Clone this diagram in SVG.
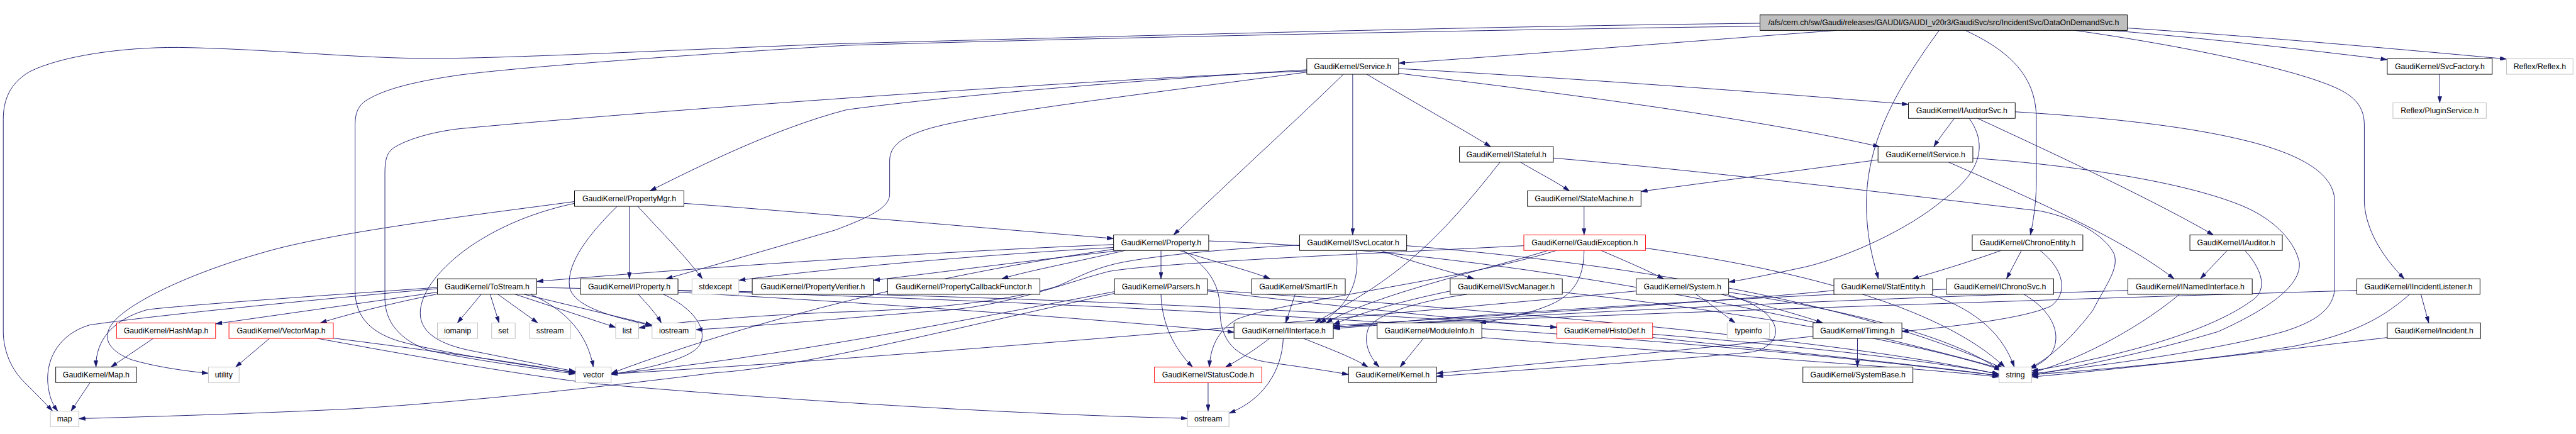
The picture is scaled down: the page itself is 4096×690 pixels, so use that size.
<svg xmlns="http://www.w3.org/2000/svg" width="4096" height="690" viewBox="0 0 4096 690">
<style>
.n rect{fill:#fff;stroke:#000;stroke-width:1}
.n.r rect{stroke:#ff0000}
.n.g rect{stroke:#bfbfbf}
.n.t rect{fill:#bfbfbf}
.n text{font-family:"Liberation Sans",Arial,sans-serif;font-size:13px;text-anchor:middle;fill:#000}
#edges path{fill:none;stroke:#191970;stroke-width:1;marker-end:url(#arr)}
</style>
<defs>
<marker id="arr" markerUnits="userSpaceOnUse" viewBox="0 0 11 7" refX="11" refY="3.5" markerWidth="11" markerHeight="7" orient="auto">
<path d="M0,0 L11,3.5 L0,7 z" fill="#191970" stroke="#191970" stroke-width="0.5"/>
</marker>
</defs>
<rect width="4096" height="690" fill="#fff"/>
<g transform="scale(0.948148)">
<g id="edges">
<path d="M2951.5,39 C2500,44 1900,60 1400,73.5 C1100,85 850,98 720,98 C600,98 450,82 300,79.5 C200,79 100,95 50,120 C15,140 5.5,170 5.5,200 L5.5,555 C5.5,590 20,620 40,640 C60,660 75,675 88,689"/>
<path d="M2951.5,44 C2500,50 1900,62 1420,76 C1100,95 850,115 769,126 C700,136 650,148 620,165 C600,175 595.5,190 595.5,210 L595.5,487 C595.5,530 620,560 680,575 C760,595 880,612 965,625"/>
<path d="M3080,51 C2850,68 2550,92 2345.5,106"/>
<path d="M3252,51 C3180,150 3128,240 3130,350 C3132,410 3143,440 3150,467.5"/>
<path d="M3296,51 C3380,90 3415,135 3415,200 L3415,300 C3415,340 3410,370 3405,394"/>
<path d="M3540,51 C3700,64 3880,85 4003.5,100"/>
<path d="M3567.5,47 C3800,62 4050,85 4203.5,99"/>
<path d="M3480,51 C3650,75 3850,115 3921,149 C3955,165 3965,185 3965,210 L3965,340 C3968,390 4000,435 4032,467.5"/>
<path d="M4091.5,124.5 L4091.5,172.5"/>
<path d="M2345.5,123 C2650,160 2950,200 3152,246"/>
<path d="M2345.5,115 C2700,135 3000,158 3200.5,175"/>
<path d="M2292,124.5 C2360,165 2450,215 2500,246"/>
<path d="M2268.5,124.5 L2268.5,394"/>
<path d="M2253,124.5 C2160,215 2060,305 1968,394"/>
<path d="M2191.5,117 C1900,135 1600,160 1420,184 C1300,215 1170,280 1090,320"/>
<path d="M2191.5,121 C1900,160 1650,190 1560,215 C1510,230 1492,245 1492,270 L1492,325 C1492,345 1470,360 1400,386 C1300,415 1180,450 1117,467.5"/>
<path d="M2191.5,119 C1800,135 1100,185 769,216 C720,222 680,235 660,248 C648,256 645.5,270 645.5,290 L645.5,500 C645.5,540 670,570 720,588 C800,605 900,618 965,627"/>
<path d="M3277.5,198.5 C3265,215 3252,232 3243,246"/>
<path d="M3302.5,198.5 C3335,245 3320,290 3259,335 C3200,385 3100,430 3030,447 C2970,460 2930,468 2899,473"/>
<path d="M3316.5,198.5 C3450,260 3620,340 3712,394"/>
<path d="M3379.5,187.5 C3550,198 3700,215 3800,245 C3880,270 3915.5,300 3915.5,340 L3915.5,480 C3915.5,520 3880,540 3830,556 C3700,592 3500,615 3407,627"/>
<path d="M3268,272 C3400,330 3560,400 3646,467.5"/>
<path d="M3149.5,268 C3000,288 2850,308 2752,321"/>
<path d="M3308.5,265 C3450,275 3650,300 3760,345 C3820,370 3850,410 3856,440 C3860,480 3800,520 3720,556 C3600,592 3480,615 3407,630"/>
<path d="M2605,265 C2900,290 3300,340 3420,353.5 C3480,365 3530,395 3545,425 C3555,450 3530,480 3510,520 C3480,560 3440,600 3404,617"/>
<path d="M2550,272 C2580,290 2610,305 2632,320"/>
<path d="M2515.5,272 C2470,330 2420,390 2360,440 C2300,490 2240,520 2205,541.5"/>
<path d="M2656.5,346 L2656.5,394"/>
<path d="M2685,420 C2720,435 2760,452 2790,467.5"/>
<path d="M2656.5,420 C2656,460 2645,495 2590,515 C2550,530 2510,537 2481,541.5"/>
<path d="M2596,420 C2500,450 2300,495 2224,541.5"/>
<path d="M2759.5,416 C3000,450 3250,510 3362,615.5"/>
<path d="M2610,420 C2450,470 2150,505 2075,535 C2040,555 2030,585 2028,615.5"/>
<path d="M2555.5,412 C2300,425 1950,440 1860,455 C1800,470 1700,510 1590,520 C1450,530 1300,545 1167,553"/>
<path d="M3356,420 C3300,440 3250,455 3207,467.5"/>
<path d="M3390,420 L3365,467.5"/>
<path d="M3421,420 C3460,450 3470,490 3440,513 C3400,532 3300,545 3189.5,556"/>
<path d="M3394,493.5 C3440,520 3460,560 3440,593 C3430,605 3418,612 3404,618"/>
<path d="M3264,485 C2900,500 2500,525 2236,549"/>
<path d="M3237,493.5 C3300,515 3355,550 3378,615.5"/>
<path d="M3075.5,487 C2900,505 2500,530 2236,546"/>
<path d="M3115,567.5 L3115,615.5"/>
<path d="M3040.5,564 C2800,590 2550,612 2409,626"/>
<path d="M2844,493.5 C2870,510 2890,527 2910,541.5"/>
<path d="M2887,493.5 C2950,510 3010,525 3057,541.5"/>
<path d="M2899,490 C3100,520 3280,565 3355,622"/>
<path d="M2899,495 C2990,520 3000,575 2940,590 C2800,605 2550,620 2409,631"/>
<path d="M2744,488 C2300,530 1500,600 1025,627"/>
<path d="M2274.5,420 C2280,460 2270,510 2213,541.5"/>
<path d="M2316,420 C2370,440 2430,455 2472,467.5"/>
<path d="M2179.5,411 C2000,420 1900,435 1868,443 C1820,455 1800,470 1767,482 C1700,500 1600,518 1400,523.5 C1250,530 1130,540 1071,550"/>
<path d="M2359,412 C2700,440 3100,500 3360,618"/>
<path d="M2432,488 C2350,505 2280,525 2236,544"/>
<path d="M2460,493.5 C2380,505 2310,525 2295,550 C2285,575 2298,600 2313,615.5"/>
<path d="M2620,490 C2900,520 3200,570 3356,620"/>
<path d="M2172,493.5 L2156,541.5"/>
<path d="M1867.5,410 C1500,425 1100,455 900,472"/>
<path d="M1867.5,415 C1600,430 1350,455 1239,470"/>
<path d="M1880,420 C1700,440 1550,460 1464.5,470"/>
<path d="M1887,420 C1800,440 1720,455 1680,467.5"/>
<path d="M1947,420 L1947,467.5"/>
<path d="M1978,420 C2040,440 2100,455 2130,467.5"/>
<path d="M1984,420 C2030,450 2046,480 2046,520 C2046,570 2070,600 2130,608 C2180,615 2230,622 2261.5,628"/>
<path d="M2027,404 C2500,420 3000,520 3356,618"/>
<path d="M1867.5,418 C1500,470 1200,560 1025,626"/>
<path d="M1055.5,346 L1055.5,467.5"/>
<path d="M1147,341 C1300,352 1600,378 1867.5,400"/>
<path d="M1069.5,346 C1110,390 1150,430 1178,467.5"/>
<path d="M1035,346 C990,390 950,440 955,480 C960,515 1030,532 1093.5,546"/>
<path d="M963.5,341 C850,365 760,420 720,480 C690,530 700,570 790,588 C850,600 910,612 965,623"/>
<path d="M963.5,338 C800,360 550,390 436,425 C330,455 230,500 195,535 C170,560 175,585 220,603 C260,615 310,622 349.5,626"/>
<path d="M1070.5,493.5 C1085,510 1100,525 1109,541.5"/>
<path d="M1112.5,493.5 C1170,520 1190,560 1170,583 C1150,603 1090,617 1025,628"/>
<path d="M1137,490 C1500,510 1900,540 2069.5,557"/>
<path d="M1137,487 C2000,500 3000,560 3352,627"/>
<path d="M807,493.5 L767,541.5"/>
<path d="M822,493.5 L837,541.5"/>
<path d="M835,493.5 L902,541.5"/>
<path d="M864,493.5 L1032.5,549"/>
<path d="M879,493.5 L1093.5,545"/>
<path d="M890,493.5 C950,520 985,560 995,615.5"/>
<path d="M733.5,484 C500,505 250,530 150,545 C100,560 78,600 80,640 C82,665 88,678 97,689.5"/>
<path d="M733.5,482 C550,495 330,510 248,519 C190,535 160,570 161,615.5"/>
<path d="M733.5,490 L361.5,543"/>
<path d="M733.5,493 C650,510 580,528 537,541.5"/>
<path d="M900,482 C1800,500 2800,560 3352,630"/>
<path d="M257,567.5 L186,615.5"/>
<path d="M452,567.5 L395,615.5"/>
<path d="M532.5,567.5 C700,598 850,625 994,643 C1300,670 1700,695 1991.5,701.5"/>
<path d="M559,567 C700,585 850,605 965,625"/>
<path d="M151,641.5 L119,689.5"/>
<path d="M1947,493.5 C1948,530 1960,575 2000,615.5"/>
<path d="M2025,488 C2300,520 2500,540 2611,549"/>
<path d="M1869,492 C1600,550 1350,615 1200,625 C1000,650 800,672 600,685 C400,695 200,700 132,702"/>
<path d="M1869,489 C1600,540 1300,600 1025,627"/>
<path d="M2025,486 C2500,520 3100,570 3353,628"/>
<path d="M2129,567.5 C2100,590 2075,605 2055,615.5"/>
<path d="M2186,567.5 C2230,585 2270,600 2294,615.5"/>
<path d="M2152,567.5 C2150,620 2120,670 2061,693"/>
<path d="M2026,641.5 L2026,689.5"/>
<path d="M2387,567.5 L2348,615.5"/>
<path d="M2485,566 C2800,590 3200,615 3352,632"/>
<path d="M2771.5,566 C3000,590 3250,615 3352,630"/>
<path d="M3568.5,487 C3000,505 2500,530 2236,551"/>
<path d="M3655,493.5 C3600,540 3500,600 3407,625"/>
<path d="M3735,420 L3690,467.5"/>
<path d="M3765,420 C3800,460 3800,490 3775,505 C3720,545 3600,590 3407,622"/>
<path d="M4060,493.5 L4073,541.5"/>
<path d="M4041,493.5 C4000,530 3950,560 3850,580 C3700,605 3500,622 3407,628"/>
<path d="M3952.5,487 C3500,500 2600,530 2236,548"/>
<path d="M4003.5,566 C3800,590 3550,620 3407,632"/>
</g>
<g id="n_top" class="n t"><rect x="2951.5" y="25" width="616" height="26"/><text x="3259.5" y="42.5">/afs/cern.ch/sw/Gaudi/releases/GAUDI/GAUDI_v20r3/GaudiSvc/src/IncidentSvc/DataOnDemandSvc.h</text></g>
<g id="n_service" class="n"><rect x="2191.5" y="98.5" width="154" height="26"/><text x="2268.5" y="116">GaudiKernel/Service.h</text></g>
<g id="n_svcfactory" class="n"><rect x="4003.5" y="98.5" width="176" height="26"/><text x="4091.5" y="116">GaudiKernel/SvcFactory.h</text></g>
<g id="n_reflex" class="n g"><rect x="4203.5" y="98.5" width="111.5" height="26"/><text x="4259.25" y="116">Reflex/Reflex.h</text></g>
<g id="n_iauditorsvc" class="n"><rect x="3200.5" y="172.5" width="179" height="26"/><text x="3290" y="190">GaudiKernel/IAuditorSvc.h</text></g>
<g id="n_pluginservice" class="n g"><rect x="4013" y="172.5" width="156.5" height="26"/><text x="4091.25" y="190">Reflex/PluginService.h</text></g>
<g id="n_istateful" class="n"><rect x="2447.5" y="246" width="157.5" height="26"/><text x="2526.25" y="263.5">GaudiKernel/IStateful.h</text></g>
<g id="n_iservice" class="n"><rect x="3149.5" y="246" width="159" height="26"/><text x="3229" y="263.5">GaudiKernel/IService.h</text></g>
<g id="n_propertymgr" class="n"><rect x="963.5" y="320" width="183.5" height="26"/><text x="1055.25" y="337.5">GaudiKernel/PropertyMgr.h</text></g>
<g id="n_statemachine" class="n"><rect x="2561.5" y="320" width="190.5" height="26"/><text x="2656.75" y="337.5">GaudiKernel/StateMachine.h</text></g>
<g id="n_property" class="n"><rect x="1867.5" y="394" width="159.5" height="26"/><text x="1947.25" y="411.5">GaudiKernel/Property.h</text></g>
<g id="n_isvclocator" class="n"><rect x="2179.5" y="394" width="179.5" height="26"/><text x="2269.25" y="411.5">GaudiKernel/ISvcLocator.h</text></g>
<g id="n_gaudiexception" class="n r"><rect x="2555.5" y="394" width="204" height="26"/><text x="2657.5" y="411.5">GaudiKernel/GaudiException.h</text></g>
<g id="n_chronoentity" class="n"><rect x="3307.5" y="394" width="185.5" height="26"/><text x="3400.25" y="411.5">GaudiKernel/ChronoEntity.h</text></g>
<g id="n_iauditor" class="n"><rect x="3672.5" y="394" width="155" height="26"/><text x="3750" y="411.5">GaudiKernel/IAuditor.h</text></g>
<g id="n_tostream" class="n"><rect x="733.5" y="467.5" width="166.5" height="26"/><text x="816.75" y="485">GaudiKernel/ToStream.h</text></g>
<g id="n_iproperty" class="n"><rect x="973.5" y="467.5" width="163.5" height="26"/><text x="1055.25" y="485">GaudiKernel/IProperty.h</text></g>
<g id="n_stdexcept" class="n g"><rect x="1160.5" y="467.5" width="78.5" height="26"/><text x="1199.75" y="485">stdexcept</text></g>
<g id="n_propertyverifier" class="n"><rect x="1261.5" y="467.5" width="203" height="26"/><text x="1363" y="485">GaudiKernel/PropertyVerifier.h</text></g>
<g id="n_propertycallbackfunctor" class="n"><rect x="1488.5" y="467.5" width="255.5" height="26"/><text x="1616.25" y="485">GaudiKernel/PropertyCallbackFunctor.h</text></g>
<g id="n_parsers" class="n"><rect x="1869" y="467.5" width="156" height="26"/><text x="1947" y="485">GaudiKernel/Parsers.h</text></g>
<g id="n_smartif" class="n"><rect x="2099" y="467.5" width="157" height="26"/><text x="2177.5" y="485">GaudiKernel/SmartIF.h</text></g>
<g id="n_isvcmanager" class="n"><rect x="2432" y="467.5" width="188" height="26"/><text x="2526" y="485">GaudiKernel/ISvcManager.h</text></g>
<g id="n_system" class="n"><rect x="2744" y="467.5" width="155" height="26"/><text x="2821.5" y="485">GaudiKernel/System.h</text></g>
<g id="n_statentity" class="n"><rect x="3075.5" y="467.5" width="165.5" height="26"/><text x="3158.25" y="485">GaudiKernel/StatEntity.h</text></g>
<g id="n_ichronosvc" class="n"><rect x="3264" y="467.5" width="180" height="26"/><text x="3354" y="485">GaudiKernel/IChronoSvc.h</text></g>
<g id="n_inamedinterface" class="n"><rect x="3568.5" y="467.5" width="208.5" height="26"/><text x="3672.75" y="485">GaudiKernel/INamedInterface.h</text></g>
<g id="n_iincidentlistener" class="n"><rect x="3952.5" y="467.5" width="206.5" height="26"/><text x="4055.75" y="485">GaudiKernel/IIncidentListener.h</text></g>
<g id="n_iomanip" class="n g"><rect x="733.5" y="541.5" width="67.5" height="26"/><text x="767.25" y="559">iomanip</text></g>
<g id="n_set" class="n g"><rect x="824.5" y="541.5" width="39.5" height="26"/><text x="844.25" y="559">set</text></g>
<g id="n_sstream" class="n g"><rect x="888" y="541.5" width="69" height="26"/><text x="922.5" y="559">sstream</text></g>
<g id="n_list" class="n g"><rect x="1032.5" y="541.5" width="38.5" height="26"/><text x="1051.75" y="559">list</text></g>
<g id="n_iostream" class="n g"><rect x="1093.5" y="541.5" width="73.5" height="26"/><text x="1130.25" y="559">iostream</text></g>
<g id="n_hashmap" class="n r"><rect x="195.5" y="541.5" width="166" height="26"/><text x="278.5" y="559">GaudiKernel/HashMap.h</text></g>
<g id="n_vectormap" class="n r"><rect x="384" y="541.5" width="175" height="26"/><text x="471.5" y="559">GaudiKernel/VectorMap.h</text></g>
<g id="n_iinterface" class="n"><rect x="2069.5" y="541.5" width="166.5" height="26"/><text x="2152.75" y="559">GaudiKernel/IInterface.h</text></g>
<g id="n_moduleinfo" class="n"><rect x="2309.5" y="541.5" width="175.5" height="26"/><text x="2397.25" y="559">GaudiKernel/ModuleInfo.h</text></g>
<g id="n_histodef" class="n r"><rect x="2611" y="541.5" width="160.5" height="26"/><text x="2691.25" y="559">GaudiKernel/HistoDef.h</text></g>
<g id="n_typeinfo" class="n g"><rect x="2896.5" y="541.5" width="71" height="26"/><text x="2932" y="559">typeinfo</text></g>
<g id="n_timing" class="n"><rect x="3040.5" y="541.5" width="149" height="26"/><text x="3115" y="559">GaudiKernel/Timing.h</text></g>
<g id="n_incident" class="n"><rect x="4003.5" y="541.5" width="156.5" height="26"/><text x="4081.75" y="559">GaudiKernel/Incident.h</text></g>
<g id="n_map_h" class="n"><rect x="93.5" y="615.5" width="135.5" height="26"/><text x="161.25" y="633">GaudiKernel/Map.h</text></g>
<g id="n_utility" class="n g"><rect x="349.5" y="615.5" width="51.5" height="26"/><text x="375.25" y="633">utility</text></g>
<g id="n_vector" class="n g"><rect x="965.5" y="615.5" width="59.5" height="26"/><text x="995.25" y="633">vector</text></g>
<g id="n_statuscode" class="n r"><rect x="1936" y="615.5" width="180" height="26"/><text x="2026" y="633">GaudiKernel/StatusCode.h</text></g>
<g id="n_kernel" class="n"><rect x="2261.5" y="615.5" width="147.5" height="26"/><text x="2335.25" y="633">GaudiKernel/Kernel.h</text></g>
<g id="n_systembase" class="n"><rect x="3023.5" y="615.5" width="184.5" height="26"/><text x="3115.75" y="633">GaudiKernel/SystemBase.h</text></g>
<g id="n_string" class="n g"><rect x="3352.5" y="615.5" width="54.5" height="26"/><text x="3379.75" y="633">string</text></g>
<g id="n_map" class="n g"><rect x="84.5" y="689.5" width="47.5" height="26"/><text x="108.25" y="707">map</text></g>
<g id="n_ostream" class="n g"><rect x="1991.5" y="689.5" width="69.5" height="26"/><text x="2026.25" y="707">ostream</text></g>
</g>
</svg>
